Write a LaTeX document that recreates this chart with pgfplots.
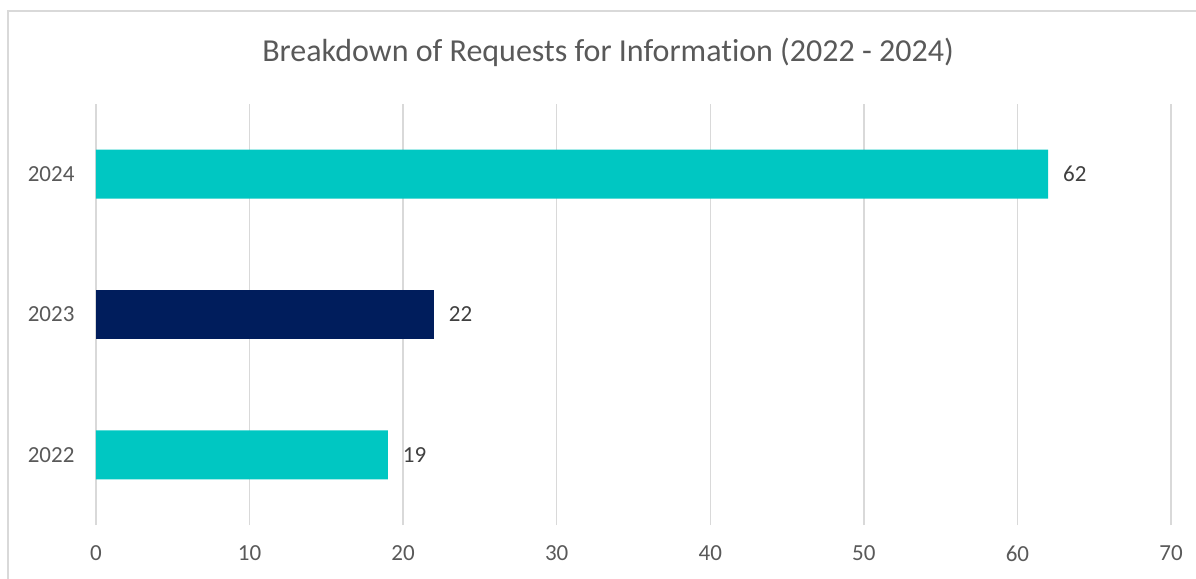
\documentclass[border=0pt]{standalone}
\usepackage{pgfplots}
\pgfplotsset{compat=1.18}
\usepackage{fontspec}
\setmainfont[Ligatures=NoCommon, RawFeature={-liga;-clig;-dlig;-calt}]{Carlito}
\definecolor{teal}{RGB}{0,199,194}
\definecolor{navy}{RGB}{0,29,92}
\definecolor{gridgray}{RGB}{217,217,217}
\definecolor{labgray}{RGB}{89,89,89}
\definecolor{datgray}{RGB}{64,64,64}

\begin{document}
\begin{tikzpicture}[x=0.5pt,y=0.5pt]
  % canvas in pixel units, y measured from the bottom
  \path[use as bounding box] (0,0) rectangle (1196,579);
  \draw[gridgray, line width=1pt] (8,0) -- (8,568) -- (1196,568);
  \node[font=\fontsize{16}{19}\selectfont, text=labgray] at (608,527) {Breakdown of Requests for Information (2022 - 2024)};
  \begin{axis}[
    at={(48pt,27pt)}, anchor=south west,
    scale only axis, width=537.5pt, height=210.5pt,
    xbar, bar width=24.5pt, bar shift=0pt,
    xmin=0, xmax=70, ymin=-0.5, ymax=2.5,
    xtick={0,10,...,70}, ytick={0,1,2},
    yticklabels={2022,2023,2024},
    axis line style={draw=none}, tick style={draw=none},
    xmajorgrids, grid style={gridgray, line width=0.75pt},
    ticklabel style={font=\fontsize{11.5}{13}\selectfont, text=labgray},
    /pgf/number format/assume math mode=true,
    xticklabel style={yshift=-7pt},
    yticklabel style={xshift=-3pt},
    nodes near coords,
    every node near coord/.append style={font=\fontsize{11.5}{13}\selectfont, text=datgray, xshift=4pt},
  ]
  \addplot[fill=teal, draw=none] coordinates {(19,0) (62,2)};
  \addplot[fill=navy, draw=none] coordinates {(22,1)};
  \end{axis}
\end{tikzpicture}
\end{document}
